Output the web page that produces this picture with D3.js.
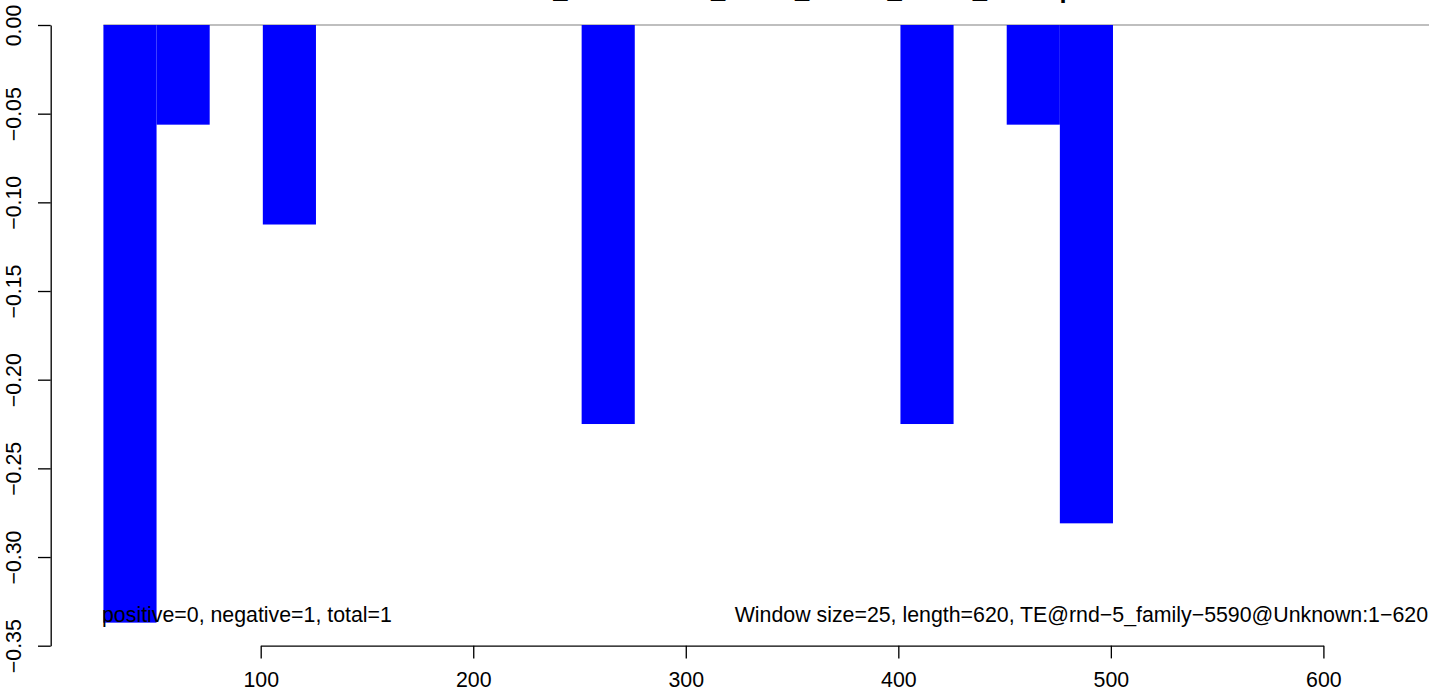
<!DOCTYPE html>
<html>
<head>
<meta charset="utf-8">
<script src="https://cdn.jsdelivr.net/npm/d3@7"></script>
<style>
  html, body { margin: 0; padding: 0; background: #fff; overflow: hidden; }
  svg { display: block; }
  text { font-family: "Liberation Sans", Arial, Helvetica, sans-serif; }
</style>
</head>
<body>
<svg id="chart" width="1429" height="692"></svg>
<script>
// ---- data ----
const titleText = "TE_Distribution_count_strand_win25_1-620.pdf";
const windowSize = 25;
const windowStarts = [26, 51, 101, 251, 401, 451, 476];
const windowValues = [-0.337, -0.0562, -0.1125, -0.225, -0.225, -0.0562, -0.281];
const xTicks = [100, 200, 300, 400, 500, 600];
const yTicks = [0, -0.05, -0.10, -0.15, -0.20, -0.25, -0.30, -0.35];
const leftNote = "positive=0, negative=1, total=1";
const rightNote = "Window size=25, length=620, TE@rnd\u22125_family\u22125590@Unknown:1\u2212620";

// ---- layout ----
const W = 1429, H = 692;
const svg = d3.select("#chart");
const x = d3.scaleLinear().domain([100, 600]).range([260.7, 1323.4]);
const y = d3.scaleLinear().domain([-0.35, 0]).range([645.7, 25]);
const fs = 21.33;

// zero line
svg.append("line")
  .attr("x1", x(windowStarts[0])).attr("x2", x(700))
  .attr("y1", y(0)).attr("y2", y(0))
  .attr("stroke", "#808080").attr("stroke-width", 1.2);

// bars
svg.append("g").selectAll("rect")
  .data(windowStarts.map((s, i) => ({s, v: windowValues[i]})))
  .join("rect")
  .attr("x", d => x(d.s))
  .attr("width", d => x(d.s + windowSize) - x(d.s))
  .attr("y", d => Math.min(y(0), y(d.v)))
  .attr("height", d => Math.abs(y(d.v) - y(0)))
  .attr("fill", "#0000ff");

// x axis
const xAxis = svg.append("g")
  .attr("transform", `translate(0,${y(-0.35)})`)
  .call(d3.axisBottom(x).tickValues(xTicks).tickFormat(d3.format("d")).tickSize(12.7).tickSizeOuter(0));
xAxis.select(".domain").attr("stroke", "#000").attr("stroke-width", 1.33);
xAxis.selectAll(".tick line").attr("stroke", "#000").attr("stroke-width", 1.33);
xAxis.selectAll(".tick text")
  .attr("y", 41.5).attr("dy", 0)
  .attr("font-size", fs).attr("fill", "#000")
  .style("font-family", '"Liberation Sans", Arial, sans-serif');

// y axis
const yAxis = svg.append("g")
  .attr("transform", `translate(50.7,0)`)
  .call(d3.axisLeft(y).tickValues(yTicks).tickFormat(d3.format(".2f")).tickSize(12.7).tickSizeOuter(0));
yAxis.select(".domain").attr("stroke", "#000").attr("stroke-width", 1.33);
yAxis.selectAll(".tick line").attr("stroke", "#000").attr("stroke-width", 1.33);
yAxis.selectAll(".tick text")
  .attr("x", null).attr("dy", null).attr("y", null)
  .attr("transform", "translate(-29.5,0) rotate(-90)")
  .attr("text-anchor", "middle")
  .attr("font-size", fs).attr("fill", "#000")
  .style("font-family", '"Liberation Sans", Arial, sans-serif');

// notes
svg.append("text")
  .attr("x", 102).attr("y", 622)
  .attr("font-size", fs).attr("fill", "#000")
  .text(leftNote);
svg.append("text")
  .attr("x", 1428).attr("y", 622)
  .attr("text-anchor", "end")
  .attr("font-size", fs).attr("fill", "#000")
  .text(rightNote);

// title (mostly above the visible area)
const title = svg.append("text")
  .attr("x", 0).attr("y", -2.4)
  .attr("font-size", 25.6).attr("font-weight", "bold").attr("fill", "#000")
  .text(titleText);
const firstUnderscore = titleText.indexOf("_");
const pre = firstUnderscore > 0 ? title.node().getSubStringLength(0, firstUnderscore) : 0;
title.attr("x", 553.3 - pre);
</script>
</body>
</html>
